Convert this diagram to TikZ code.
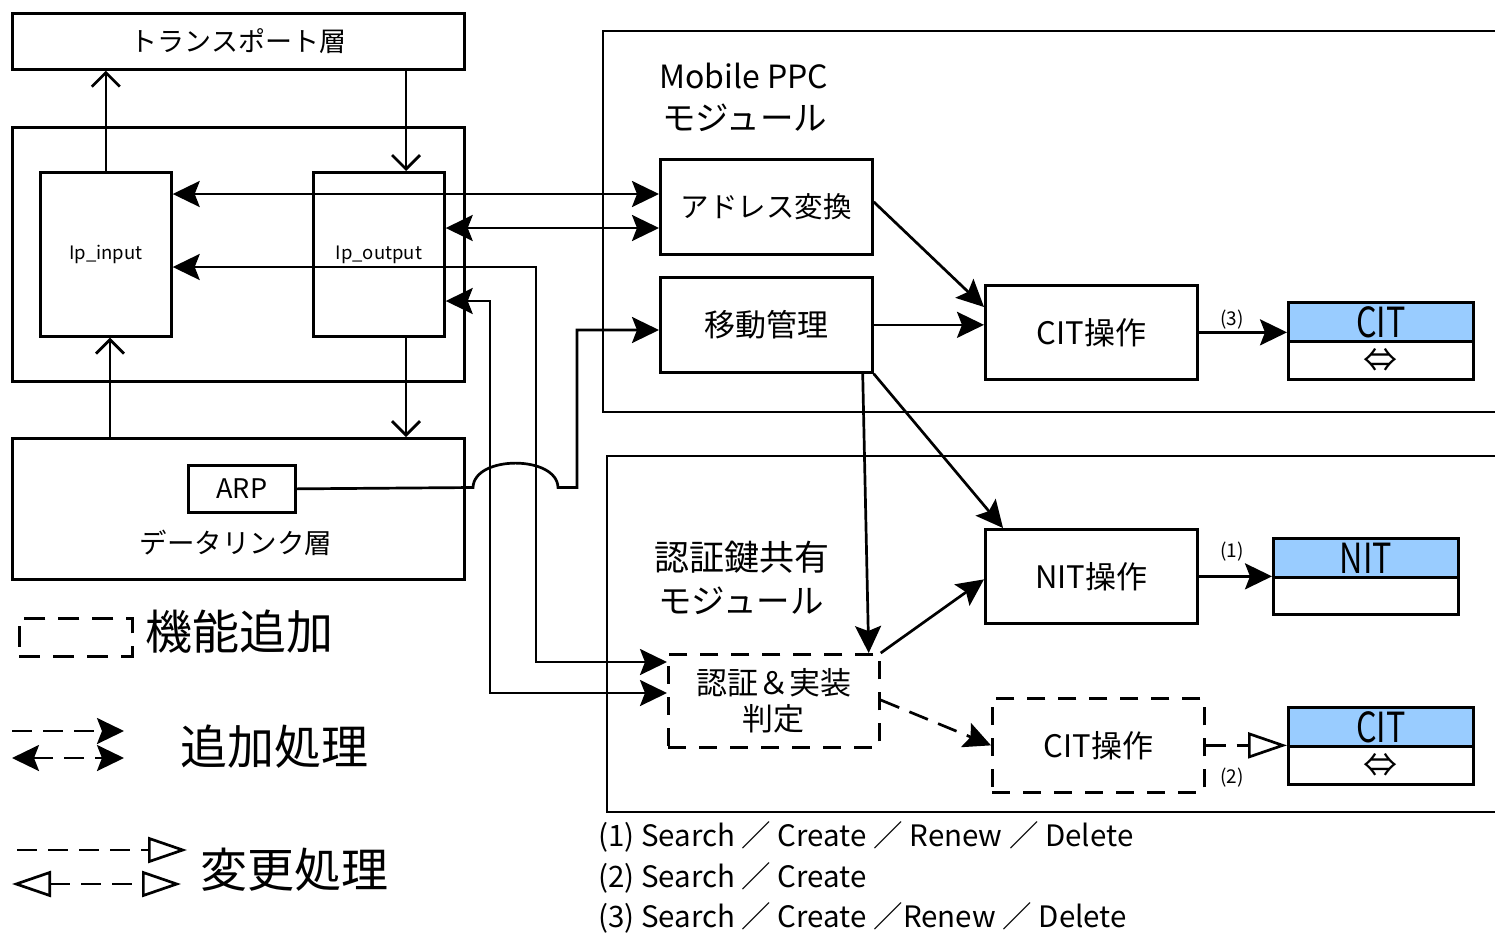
\documentclass[tikz,border=0pt]{standalone}
\usepackage{fontspec}
\setmainfont{Noto Sans CJK JP}
\usetikzlibrary{arrows.meta}
\definecolor{tblblue}{RGB}{153,204,255}
\newcommand{\fsz}[1]{\fontsize{#1}{#1}\selectfont}
\newcommand{\tall}[1]{\scalebox{0.95}[1.22]{#1}}
\begin{document}
\begin{tikzpicture}[x=1pt,y=-1pt,
  lw/.style={line width=2.7pt},
  sz/.style 2 args={minimum width=#1pt,minimum height=#2pt},
  blk/.style={draw,lw,inner sep=0pt,anchor=north west,align=center},
  dashbox/.style={blk,dash pattern=on 18pt off 13pt},
  lbl/.style={inner sep=0pt,align=center},
  dline/.style={dash pattern=on 20pt off 11pt},
  solidarr/.style={lw,-{Stealth[length=27pt,width=26pt,inset=5pt]}},
  twoway/.style={lw,{Stealth[length=27pt,width=26pt,inset=5pt]}-{Stealth[length=27pt,width=26pt,inset=5pt]}},
  barb/.style={lw,-{Straight Barb[length=14pt,width=28pt]}},
  hollow/.style={lw,-{Triangle[open,length=39pt,width=26pt]}},
  hollowtwo/.style={lw,{Triangle[open,length=39pt,width=26pt]}-{Triangle[open,length=39pt,width=26pt]}},
]
\useasboundingbox (0,0) rectangle (1495,932);

% ---- protocol stack ----
\node[blk,sz={452}{56},font=\fsz{27}] (trans) at (11,12) {トランスポート層};
\node[blk,sz={452}{254}] (net) at (11,126) {};
\node[blk,sz={131}{164},font=\fsz{18.5}] (ipin) at (39,171) {Ip\_input};
\node[blk,sz={131}{164},font=\fsz{18.5}] (ipout) at (312,171) {Ip\_output};
\node[blk,sz={452}{141}] (dl) at (11,437) {};
\node[blk,sz={107}{47},font=\fsz{27}] (arp) at (187,464) {ARP};
\node[lbl,font=\fsz{27.5}] (dltext) at (236,543) {データリンク層};

% ---- Mobile PPC module ----
\draw[lw] (1500,31) -- (603,31) -- (603,412) -- (1500,412);
\node[lbl,anchor=west,font=\fsz{32}] (mobtitle) at (659,76) {Mobile PPC};
\node[lbl,anchor=west,font=\fsz{33.5}] (mobsub) at (662,118) {モジュール};
\node[blk,sz={212}{95},font=\fsz{28.5}] (addr) at (659,158) {アドレス変換};
\node[blk,sz={212}{95},font=\fsz{31}] (move) at (659,276) {移動管理};
\node[blk,sz={212}{94},font=\fsz{31}] (cit1) at (984,284) {CIT操作};
\node[blk,sz={185}{39},fill=tblblue,font=\fsz{34}] (citTa) at (1287,301) {\tall{CIT}};
\node[blk,sz={185}{38},font=\fsz{34}] (citTb) at (1287,340) {⇔};

% ---- key sharing module ----
\draw[lw] (1500,456) -- (607,456) -- (607,812) -- (1500,812);
\node[lbl,font=\fsz{35}] (authtitle) at (742,557) {認証鍵共有};
\node[lbl,font=\fsz{33.5}] (authsub) at (741,601) {モジュール};
\node[blk,sz={212}{94},font=\fsz{31}] (nit) at (984,528) {NIT操作};
\node[blk,sz={185}{39},fill=tblblue,font=\fsz{34}] (nitTa) at (1272,537) {\tall{NIT}};
\node[blk,sz={185}{37}] (nitTb) at (1272,576) {};
\node[dashbox,sz={211}{93},font=\fsz{31}] (judge) at (667,653) {認証＆実装\\[5pt]判定};
\node[dashbox,sz={212}{94},font=\fsz{31}] (cit2) at (991,697) {CIT操作};
\node[blk,sz={185}{39},fill=tblblue,font=\fsz{34}] (citUa) at (1287,706) {\tall{CIT}};
\node[blk,sz={185}{38},font=\fsz{34}] (citUb) at (1287,745) {⇔};

% ---- routing helpers ----
\coordinate (xdn) at (406,0);
\coordinate (xup) at (110,0);
\coordinate (ya) at (0,194);
\coordinate (yb) at (0,228);
\coordinate (ka) at (536,267);
\coordinate (kb) at (536,662);
\coordinate (kc) at (490,301);
\coordinate (kd) at (490,693);
\coordinate (hopa) at (473,487.5);
\coordinate (hopb) at (558,487.5);
\coordinate (ke) at (577,487.5);
\coordinate (kf) at (577,330);

% ---- stack connectors ----
\draw[barb] (ipin.north) -- (ipin.north |- trans.south);
\draw[barb] (trans.south -| xdn) -- (ipout.north -| xdn);
\draw[barb] (dl.north -| xup) -- (ipin.south -| xup);
\draw[barb] (ipout.south -| xdn) -- (dl.north -| xdn);

\draw[twoway] (ipin.east |- ya) -- (addr.west |- ya);
\draw[twoway] (ipout.east |- yb) -- (addr.west |- yb);
\draw[twoway] (ipin.east |- ka) -- (ka) -- (kb) -- (judge.west |- kb);
\draw[twoway] (ipout.east |- kc) -- (kc) -- (kd) -- (judge.west |- kd);
\draw[solidarr] (arp.east) -- (hopa) .. controls (474,455) and (557,455) .. (hopb)
  -- (ke) -- (kf) -- (move.west |- kf);

% ---- module connectors ----
\draw[solidarr] ([yshift=5pt]addr.east) -- ([yshift=-23pt]cit1.north west);
\draw[solidarr] (move.east) -- (move.east -| cit1.west);
\draw[solidarr] (move.south east) -- ([xshift=19pt]nit.north west);
\draw[solidarr] ([xshift=-11pt]move.south east) -- ([xshift=-12pt]judge.north east);
\draw[solidarr] (judge.north east) -- ([yshift=-3pt]nit.west);
\draw[solidarr,dline] ([yshift=-47pt]judge.north east) -- (cit2.west);
\draw[solidarr] (cit1.east) -- (cit1.east -| citTa.west);
\draw[solidarr] (nit.east) -- (nit.east -| nitTa.west);
\draw[hollow,dline] (cit2.east) -- (cit2.east -| citUa.west);
\node[lbl,font=\fsz{19}] (lab3) at (1232,320) {(3)};
\node[lbl,font=\fsz{19}] (lab1) at (1232,552) {(1)};
\node[lbl,font=\fsz{19}] (lab2) at (1232,778) {(2)};

% ---- operation list ----
\node[lbl,anchor=west,font=\fsz{29.5}] (opa) at (598,837) {(1) Search ／ Create ／ Renew ／ Delete};
\node[lbl,anchor=west,font=\fsz{29.5}] (opb) at (598,878) {(2) Search ／ Create};
\node[lbl,anchor=west,font=\fsz{29.5}] (opc) at (598,918) {(3) Search ／ Create ／Renew ／ Delete};

% ---- legend ----
\node[blk,sz={113}{38},dash pattern=on 21pt off 13pt] (legbox) at (18,617) {};
\node[lbl,anchor=west,font=\fsz{47}] (legadd) at (145,632) {機能追加};
\coordinate (la1) at (12,731);
\coordinate (la2) at (124,731);
\coordinate (lb1) at (12,758);
\coordinate (lb2) at (124,758);
\draw[solidarr,dline] (la1) -- (la2);
\draw[twoway,dline] (lb1) -- (lb2);
\node[lbl,anchor=west,font=\fsz{47}] (legproc) at (180,747) {追加処理};
\coordinate (lc1) at (17,850);
\coordinate (lc2) at (187,850);
\coordinate (ld1) at (12,884);
\coordinate (ld2) at (181,884);
\draw[hollow,dline] (lc1) -- (lc2);
\draw[hollowtwo,dline] (ld1) -- (ld2);
\node[lbl,anchor=west,font=\fsz{47}] (legchg) at (200,870) {変更処理};
\end{tikzpicture}
\end{document}
